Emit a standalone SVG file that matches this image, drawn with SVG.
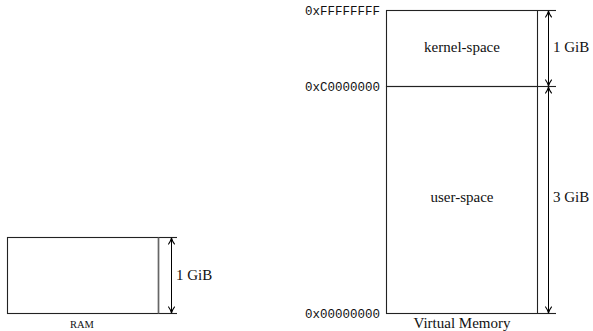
<svg xmlns="http://www.w3.org/2000/svg" width="593" height="331" viewBox="0 0 593 331">
<style>
.ln{stroke:#222;stroke-width:1.1;fill:none}
.ar{stroke:#000;stroke-width:1;fill:none;marker-start:url(#ah);marker-end:url(#ah)}
.t{font-family:'Liberation Serif','Times New Roman','DejaVu Serif',serif;font-size:15px;fill:#111}
.sc{font-family:'Liberation Serif','Times New Roman','DejaVu Serif',serif;font-size:10.5px;fill:#111}
.m{font-family:'Liberation Mono','DejaVu Sans Mono',monospace;font-size:12.5px;fill:#111}
</style>
<defs>
<marker id="ah" viewBox="0 0 10 10" refX="9" refY="5" markerWidth="8" markerHeight="8" orient="auto-start-reverse" markerUnits="userSpaceOnUse">
<path d="M1,1 Q5,4 9,5 Q5,6 1,9" fill="none" stroke="#000" stroke-width="1.3"/>
</marker>
</defs>
<rect width="593" height="331" fill="#fff"/>
<g id="ram">
<rect class="ln" x="7.5" y="237.5" width="151" height="76"/>
<line class="ln" x1="158.5" y1="237.5" x2="177" y2="237.5"/>
<line class="ln" x1="158.5" y1="313.5" x2="177" y2="313.5"/>
<line x1="158.5" y1="237.5" x2="158.5" y2="313.5" stroke="#666" stroke-width="1.6"/>
<text class="t" x="176" y="280">1 GiB</text>
<text class="sc" x="82" y="328" text-anchor="middle">RAM</text>
</g>
<g id="kernel-space">
<rect class="ln" x="386.5" y="10.5" width="151" height="76"/>
<text class="t" x="462" y="52" text-anchor="middle">kernel-space</text>
<text class="t" x="553" y="52">1 GiB</text>
</g>
<g id="user-space">
<rect class="ln" x="386.5" y="86.5" width="151" height="227"/>
<text class="t" x="462" y="202" text-anchor="middle">user-space</text>
<text class="t" x="553" y="202">3 GiB</text>
<text class="t" x="462" y="328" text-anchor="middle">Virtual Memory</text>
</g>
<g id="addresses">
<text class="m" x="380" y="15" text-anchor="end">0xFFFFFFFF</text>
<text class="m" x="380" y="91" text-anchor="end">0xC0000000</text>
<text class="m" x="380" y="318" text-anchor="end">0x00000000</text>
</g>
<g id="connectors">
<line class="ln" x1="537.5" y1="10.5" x2="556" y2="10.5"/>
<line class="ln" x1="537.5" y1="86.5" x2="556" y2="86.5"/>
<line class="ln" x1="537.5" y1="313.5" x2="556" y2="313.5"/>
<line class="ar" x1="171.5" y1="238" x2="171.5" y2="313"/>
<line class="ar" x1="548.5" y1="11" x2="548.5" y2="86"/>
<line class="ar" x1="548.5" y1="87" x2="548.5" y2="313"/>
</g>
</svg>
